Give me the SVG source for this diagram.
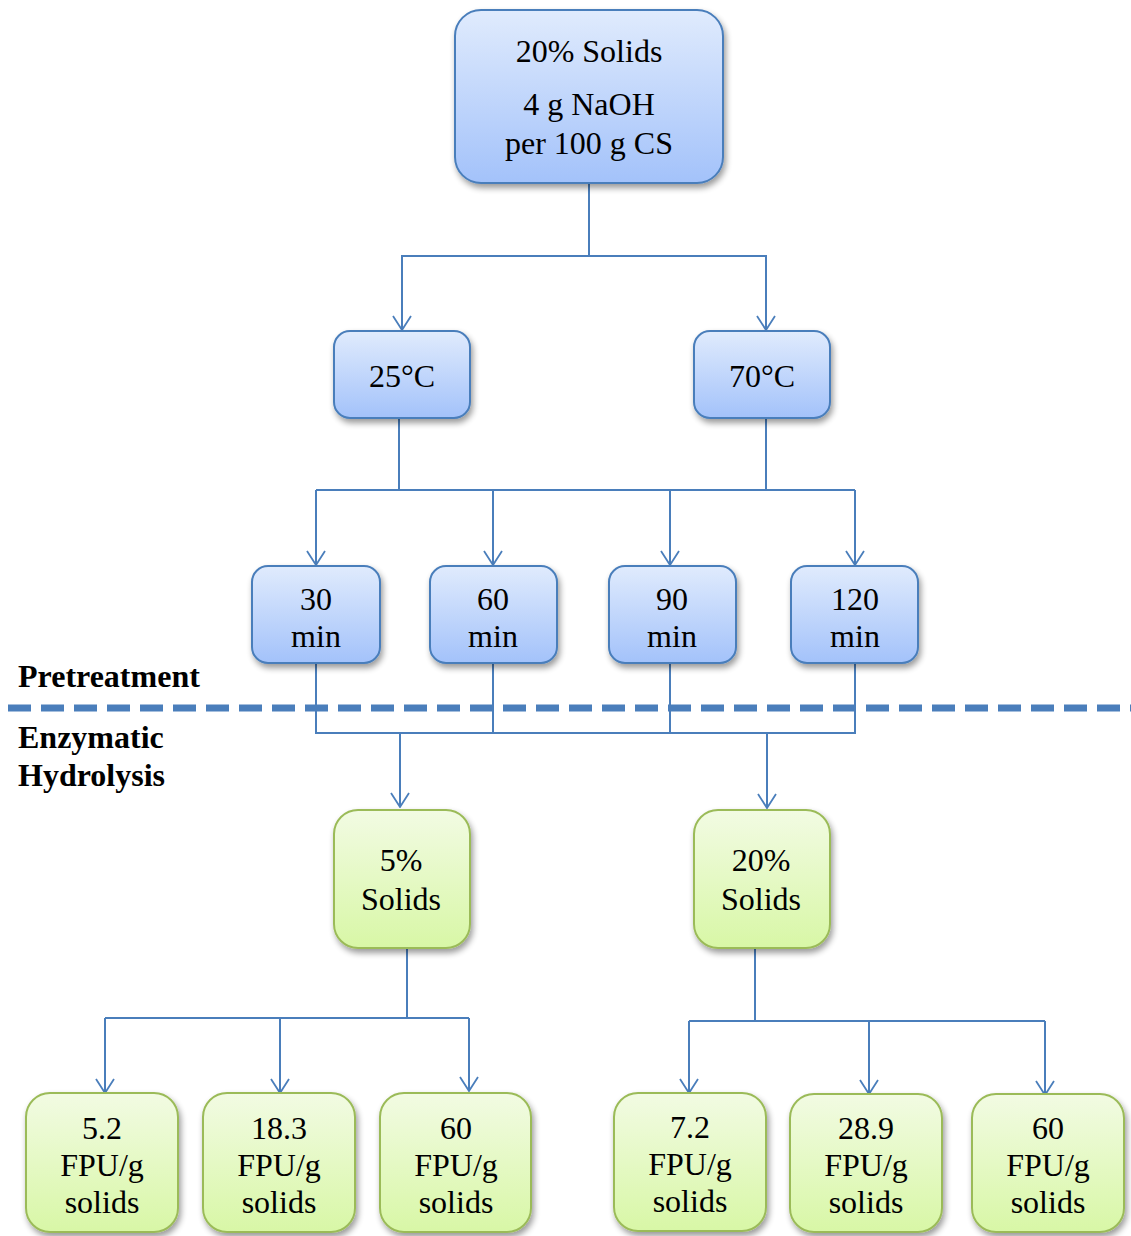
<svg xmlns="http://www.w3.org/2000/svg" width="1131" height="1236" viewBox="0 0 1131 1236">
<style>
.t{font-family:"Liberation Serif","Times New Roman",serif;font-size:32px;fill:#000;text-anchor:middle}
.b{font-family:"Liberation Serif","Times New Roman",serif;font-size:32px;font-weight:bold;fill:#000}
.blue{fill:url(#gb);stroke:#4a7ebb;stroke-width:2;filter:url(#sh)}
.green{fill:url(#gg);stroke:#9bbb59;stroke-width:2;filter:url(#sh)}
.c{fill:none;stroke:#4a7ebb;stroke-width:2}
.a{fill:none;stroke:#4a7ebb;stroke-width:2;marker-end:url(#ar)}
</style>
<defs>
<linearGradient id="gb" x1="0" y1="0" x2="0" y2="1"><stop offset="0" stop-color="#e0ebfd"/><stop offset="1" stop-color="#a3c2fa"/></linearGradient>
<linearGradient id="gg" x1="0" y1="0" x2="0" y2="1"><stop offset="0" stop-color="#f2fbe3"/><stop offset="1" stop-color="#d8f7a6"/></linearGradient>
<filter id="sh" x="-20%" y="-20%" width="140%" height="140%"><feGaussianBlur in="SourceAlpha" stdDeviation="3"/><feOffset dx="2" dy="4" result="o"/><feComponentTransfer><feFuncA type="linear" slope="0.4"/></feComponentTransfer><feMerge><feMergeNode/><feMergeNode in="SourceGraphic"/></feMerge></filter>
<marker id="ar" markerWidth="16" markerHeight="20" refX="15" refY="10" orient="auto" markerUnits="userSpaceOnUse" viewBox="0 0 16 20"><polyline points="1,1 15,10 1,19" fill="none" stroke="#4a7ebb" stroke-width="1.8"/></marker>
</defs>
<g id="connectors">
<polyline class="c" points="589,183 589,256"/>
<polyline class="a" points="589,256 402,256 402,330"/>
<polyline class="a" points="589,256 766,256 766,330"/>
<polyline class="c" points="399,418 399,490"/>
<polyline class="c" points="766,418 766,490"/>
<polyline class="c" points="316,490 855,490"/>
<polyline class="a" points="316,490 316,565"/>
<polyline class="a" points="493,490 493,565"/>
<polyline class="a" points="670,490 670,565"/>
<polyline class="a" points="855,490 855,565"/>
<polyline class="c" points="316,663 316,733 855,733 855,663"/>
<polyline class="c" points="493,663 493,733"/>
<polyline class="c" points="670,663 670,733"/>
<polyline class="a" points="400,733 400,807"/>
<polyline class="a" points="767,733 767,808"/>
<polyline class="c" points="407,948 407,1018"/>
<polyline class="c" points="105,1018 469,1018"/>
<polyline class="a" points="105,1018 105,1093"/>
<polyline class="a" points="280,1018 280,1093"/>
<polyline class="a" points="469,1018 469,1091"/>
<polyline class="c" points="755,948 755,1021"/>
<polyline class="c" points="689,1021 1045,1021"/>
<polyline class="a" points="689,1021 689,1093"/>
<polyline class="a" points="869,1021 869,1094"/>
<polyline class="a" points="1045,1021 1045,1095"/>
</g>
<line x1="8" y1="708" x2="1131" y2="708" stroke="#4a7ebb" stroke-width="7" stroke-dasharray="23,10"/>
<text class="b" x="18" y="687">Pretreatment</text>
<text class="b" x="18" y="748">Enzymatic</text>
<text class="b" x="18" y="786">Hydrolysis</text>
<g id="top"><rect class="blue" x="455" y="10" width="268" height="173" rx="26"/>
<text class="t" x="589" y="62">20% Solids</text><text class="t" x="589" y="115">4 g NaOH</text><text class="t" x="589" y="154">per 100 g CS</text></g>
<g id="t25"><rect class="blue" x="334" y="331" width="136" height="87" rx="16"/><text class="t" x="402" y="387">25°C</text></g>
<g id="t70"><rect class="blue" x="694" y="331" width="136" height="87" rx="16"/><text class="t" x="762" y="387">70°C</text></g>
<g id="m30"><rect class="blue" x="252" y="566" width="128" height="97" rx="16"/><text class="t" x="316" y="610">30</text><text class="t" x="316" y="647">min</text></g>
<g id="m60"><rect class="blue" x="430" y="566" width="127" height="97" rx="16"/><text class="t" x="493" y="610">60</text><text class="t" x="493" y="647">min</text></g>
<g id="m90"><rect class="blue" x="609" y="566" width="127" height="97" rx="16"/><text class="t" x="672" y="610">90</text><text class="t" x="672" y="647">min</text></g>
<g id="m120"><rect class="blue" x="791" y="566" width="127" height="97" rx="16"/><text class="t" x="855" y="610">120</text><text class="t" x="855" y="647">min</text></g>
<g id="s5"><rect class="green" x="334" y="810" width="136" height="138" rx="24"/><text class="t" x="401" y="871">5%</text><text class="t" x="401" y="910">Solids</text></g>
<g id="s20"><rect class="green" x="694" y="810" width="136" height="138" rx="24"/><text class="t" x="761" y="871">20%</text><text class="t" x="761" y="910">Solids</text></g>
<g id="e1"><rect class="green" x="26" y="1093" width="152" height="139" rx="24"/><text class="t" x="102" y="1139">5.2</text><text class="t" x="102" y="1176">FPU/g</text><text class="t" x="102" y="1213">solids</text></g>
<g id="e2"><rect class="green" x="203" y="1093" width="152" height="139" rx="24"/><text class="t" x="279" y="1139">18.3</text><text class="t" x="279" y="1176">FPU/g</text><text class="t" x="279" y="1213">solids</text></g>
<g id="e3"><rect class="green" x="380" y="1093" width="151" height="139" rx="24"/><text class="t" x="456" y="1139">60</text><text class="t" x="456" y="1176">FPU/g</text><text class="t" x="456" y="1213">solids</text></g>
<g id="e4"><rect class="green" x="614" y="1093" width="152" height="138" rx="24"/><text class="t" x="690" y="1138">7.2</text><text class="t" x="690" y="1175">FPU/g</text><text class="t" x="690" y="1212">solids</text></g>
<g id="e5"><rect class="green" x="790" y="1094" width="152" height="138" rx="24"/><text class="t" x="866" y="1139">28.9</text><text class="t" x="866" y="1176">FPU/g</text><text class="t" x="866" y="1213">solids</text></g>
<g id="e6"><rect class="green" x="972" y="1094" width="152" height="138" rx="24"/><text class="t" x="1048" y="1139">60</text><text class="t" x="1048" y="1176">FPU/g</text><text class="t" x="1048" y="1213">solids</text></g>
</svg>
